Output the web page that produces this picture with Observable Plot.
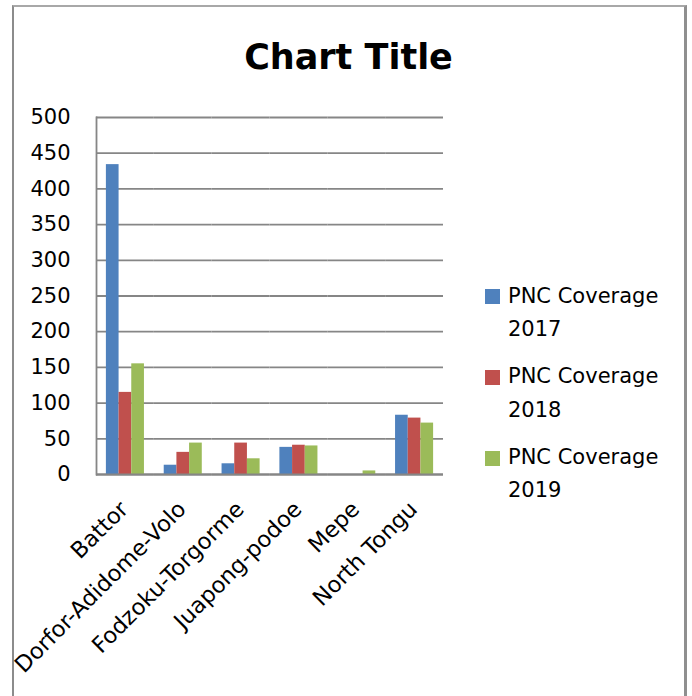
<!DOCTYPE html>
<html>
<head>
<meta charset="utf-8">
<script src="https://cdn.jsdelivr.net/npm/d3@7"></script>
<script src="https://cdn.jsdelivr.net/npm/@observablehq/plot@0.6"></script>
<style>
  html, body { margin: 0; padding: 0; background: #fff; }
  body { width: 692px; height: 696px; position: relative; overflow: hidden; font-family: "DejaVu Sans", sans-serif; }
  #frame { position: absolute; left: 12px; top: 5px; width: 670px; height: 720px;
           border-left: 2px solid #8c8c8c; border-top: 2px solid #a8a8a8; border-right: 3px solid #8f8f8f; }
  #chart { position: absolute; left: 0; top: 0; }
  #title { position: absolute; left: 348.5px; top: 40.4px; transform: translateX(-50%);
           font: bold 35px/35px "DejaVu Sans", sans-serif; color: #000; white-space: nowrap; }
  .entry { position: absolute; left: 485px; }
  .sw { position: absolute; left: 0; width: 15px; height: 15px; }
  .lbl { position: absolute; left: 23px; font-size: 21px; line-height: 33.4px; color: #000; white-space: nowrap; }
</style>
</head>
<body>
<div id="frame"></div>
<div id="chart"></div>
<div id="title">Chart Title</div>
<div id="legend"></div>
<script>
const categories = ["Battor", "Dorfor-Adidome-Volo", "Fodzoku-Torgorme", "Juapong-podoe", "Mepe", "North Tongu"];
const seriesNames = ["PNC Coverage 2017", "PNC Coverage 2018", "PNC Coverage 2019"];
const legendLines = [["PNC Coverage", "2017"], ["PNC Coverage", "2018"], ["PNC Coverage", "2019"]];
const values2017 = [434, 13, 15, 38, 0, 83];
const values2018 = [115, 31, 44, 41, 0, 79];
const values2019 = [155, 44, 22, 40, 5, 72];
const yTicks = [0, 50, 100, 150, 200, 250, 300, 350, 400, 450, 500];
const colors = ["#4f81bd", "#c0504d", "#9bbb59"];

const seriesValues = [values2017, values2018, values2019];
const data = categories.flatMap((c, i) =>
  seriesNames.map((s, j) => ({category: c, series: s, value: seriesValues[j][i]}))
);

const chart = Plot.plot({
  width: 692,
  height: 696,
  marginLeft: 96,
  marginRight: 249,
  marginTop: 117,
  marginBottom: 222,
  style: {fontFamily: "DejaVu Sans", background: "transparent", overflow: "visible"},
  fx: {domain: categories, padding: 0, round: false, label: null},
  x: {domain: seriesNames, paddingInner: 0, paddingOuter: 0.78, round: false, axis: null},
  y: {domain: [0, 500], label: null},
  color: {domain: seriesNames, range: colors},
  marks: [
    Plot.gridY(yTicks, {stroke: "#868686", strokeOpacity: 1, strokeWidth: 1.8}),
    Plot.barY(data, {fx: "category", x: "series", y: "value", fill: "series"}),
    Plot.ruleY([0], {stroke: "#868686", strokeWidth: 1.8}),
    Plot.frame({anchor: "left", facetAnchor: "left", stroke: "#868686", strokeWidth: 1.8}),
    Plot.axisY(yTicks, {tickSize: 0, tickPadding: 26, fontSize: 21, fill: "#000", label: null}),
    Plot.axisFx({anchor: "bottom", tickRotate: -45, tickSize: 0, tickPadding: 31, dx: -1, fontSize: 22.5, fill: "#000", label: null})
  ]
});
document.getElementById("chart").appendChild(chart);

const legend = document.getElementById("legend");
const entryTops = [279.7, 360.4, 441.1];
seriesNames.forEach((s, i) => {
  const e = document.createElement("div");
  e.className = "entry";
  e.style.top = entryTops[i] + "px";
  const sw = document.createElement("div");
  sw.className = "sw";
  sw.style.background = colors[i];
  sw.style.top = "9.6px";
  e.appendChild(sw);
  legendLines[i].forEach((t, k) => {
    const l = document.createElement("div");
    l.className = "lbl";
    l.style.top = (k * 33.4) + "px";
    l.textContent = t;
    e.appendChild(l);
  });
  legend.appendChild(e);
});
</script>
</body>
</html>
